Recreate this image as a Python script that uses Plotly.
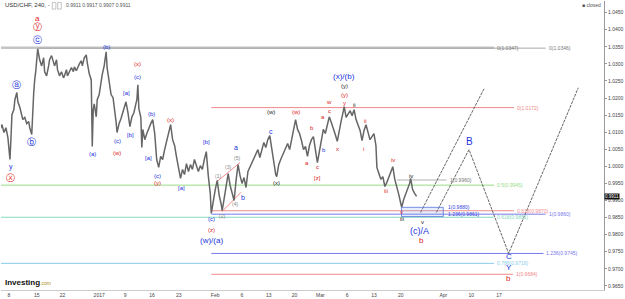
import plotly.graph_objects as go

# ---------------- data ----------------
# time axis: trading days (0 = Dec 8, 2016)
days = [-1.67,-1.30,-0.93,-0.56,-0.19,0.19,0.37,0.56,0.93,1.11,1.48,1.67,2.04,2.41,2.59,2.96,3.33,3.70,3.89,4.26,
        4.44,4.63,4.81,5.00,5.37,5.74,6.11,6.48,6.67,7.04,7.41,7.59,7.96,8.33,8.52,8.89,9.07,9.44,9.81,10.19,
        10.37,10.74,10.93,11.30,11.67,12.04,12.22,12.59,12.78,13.15,13.52,13.70,14.07,14.44,14.63,15.00,15.37,15.56,15.74,15.93,
        16.30,16.48,16.85,17.22,17.41,17.78,18.15,18.33,18.70,19.07,19.44,19.81,20.00,20.19,20.56,20.93,21.30,21.48,21.85,22.22,
        22.59,22.96,23.33,23.70,23.89,24.07,24.26,24.63,24.81,25.00,25.37,25.74,26.11,26.48,26.85,27.22,27.59,27.96,28.33,28.70,
        29.07,29.44,29.81,30.19,30.56,30.93,31.30,31.67,32.04,32.41,32.78,33.15,33.52,33.89,34.26,34.63,35.00,35.37,35.74,36.11,
        36.48,36.85,37.22,37.59,37.78,38.15,38.52,38.89,39.26,39.63,39.81,40.19,40.56,40.93,41.30,41.67,42.04,42.41,42.78,43.15,
        43.52,43.89,44.26,44.63,45.00,45.56,46.11,46.48,46.85,47.22,47.59,47.96,48.33,48.70,49.07,49.44,49.81,50.00,50.37,50.74,
        51.11,51.48,52.04,52.41,52.78,53.15,53.52,53.89,54.26,54.63,55.00,55.37,55.74,56.11,56.48,56.85,57.22,57.59,57.96,58.33,
        58.70,59.07,59.44,59.81,60.19,60.56,60.93,61.30,61.67,62.04,62.41,62.59,62.96,63.33,63.70,64.07,64.44,64.81,65.19,65.56,
        65.93,66.30,66.67,67.04,67.41,67.78,68.15,68.52,68.70,69.07,69.44,69.81,70.19,70.56,70.93,71.30,71.67,72.04,72.41,72.78,
        73.15,73.33,73.70,74.07,74.44,74.81,75.00,75.37,75.74,76.11]
closes = [1.0108,1.0122,1.0099,1.0113,1.0084,1.0020,1.0078,1.0151,1.0166,1.0195,1.0216,1.0189,1.0172,1.0151,1.0137,1.0143,1.0125,1.0131,1.0113,1.0093,
          1.0166,1.0216,1.0253,1.0277,1.0344,1.0312,1.0294,1.0318,1.0277,1.0265,1.0294,1.0312,1.0324,1.0306,1.0294,1.0312,1.0283,1.0265,1.0277,1.0259,
          1.0265,1.0283,1.0265,1.0277,1.0289,1.0277,1.0291,1.0280,1.0289,1.0300,1.0309,1.0294,1.0318,1.0326,1.0303,1.0271,1.0253,1.0058,1.0166,1.0183,
          1.0145,1.0195,1.0210,1.0253,1.0268,1.0294,1.0335,1.0289,1.0242,1.0210,1.0201,1.0160,1.0131,1.0099,1.0125,1.0140,1.0160,1.0172,1.0189,1.0157,
          1.0116,1.0145,1.0157,1.0183,1.0195,1.0239,1.0169,1.0143,1.0055,1.0108,1.0078,1.0096,1.0113,1.0125,1.0137,1.0096,1.0020,0.9997,1.0029,1.0020,
          1.0049,1.0073,1.0090,1.0122,1.0078,1.0061,1.0026,0.9991,0.9965,0.9991,0.9976,1.0008,0.9985,1.0005,0.9991,1.0020,0.9999,0.9985,1.0002,0.9991,
          1.0020,1.0043,0.9973,0.9921,0.9862,0.9903,0.9932,0.9959,0.9915,0.9889,0.9870,0.9906,0.9944,0.9979,0.9944,0.9921,0.9900,0.9959,1.0005,0.9973,
          0.9950,0.9967,0.9938,0.9985,0.9997,1.0020,1.0035,1.0049,1.0026,1.0049,1.0070,1.0055,1.0078,1.0090,1.0049,1.0008,0.9976,0.9970,1.0005,1.0020,
          1.0035,1.0046,1.0067,1.0049,1.0078,1.0105,1.0137,1.0108,1.0096,1.0075,1.0049,1.0058,1.0029,1.0061,1.0078,1.0087,1.0049,1.0011,1.0043,1.0078,
          1.0108,1.0096,1.0125,1.0145,1.0128,1.0113,1.0093,1.0073,1.0108,1.0134,1.0160,1.0175,1.0143,1.0154,1.0163,1.0148,1.0166,1.0137,1.0122,1.0105,
          1.0075,1.0105,1.0122,1.0096,1.0078,1.0087,1.0096,1.0061,0.9997,0.9979,0.9962,0.9970,0.9941,0.9953,0.9967,0.9985,0.9999,0.9962,0.9935,0.9918,
          0.9892,0.9880,0.9903,0.9918,0.9929,0.9950,0.9965,0.9932,0.9921,0.9912]

last_price = 0.9911
ohlc_text = "0.9911 0.9917 0.9907 0.9911"

# Horizontal levels: price, start day, end day, label
lvl_price = [1.0347, 1.0346, 1.0172, 0.9960, 0.9945, 0.9870, 0.9860, 0.9851, 0.9745, 0.9716, 0.9684]
lvl_start = [-1.67, 5.37, 37.8, 72.4, -1.67, 37.8, 37.8, -1.67, 37.8, -1.67, 37.8]
lvl_end = [90.6, 100.2, 94.3, 81.7, 90.6, 94.3, 100.2, 90.6, 99.8, 90.6, 94.1]
lvl_label = ["0(1.0347)", "0(1.0346)", "0(1.0172)", "1(0.9960)", "0.5(0.9945)", "0.618(0.9870)",
             "1(0.9860)", "0.618(0.9851)", "1.236(0.9745)", "0.786(0.9716)", "1(0.9684)"]
lvl_color = ["#c4c4c4", "#a8a8a8", "#f08a8a", "#b0b0b0", "#96dc86", "#f08a8a",
             "#7878ec", "#84d8c0", "#7878ec", "#88ccec", "#f08a8a"]
lvl_width = [2.5, 1, 1, 1, 1, 1, 1, 1, 1, 1, 1]

# target box
box_days = [73.3, 81.1]
box_prices = [0.9853, 0.9880]
box_labels = ["1(0.9880)", "1.236(0.9861)"]
box_label_prices = [0.9880, 0.9861]

# projections
proj1_days = [76.85, 88.7]
proj1_prices = [0.9865, 1.0227]
proj2_days = [79.8, 85.9, 93.3, 106.3]
proj2_prices = [0.9865, 1.0049, 0.9745, 1.0230]

# red impulse channel
chan_up_days = [38.89, 43.15]
chan_up_prices = [0.9956, 1.0011]
chan_lo_days = [39.81, 43.33]
chan_lo_prices = [0.9868, 0.9924]

# wave labels: text, day, price, colour key, size key
BL, RD, BK, GY = "#2233dd", "#dd2222", "#222222", "#888888"
labels = [
    ("a", 5.37, 1.0434, RD, 8), ("ⓨ", 5.37, 1.0408, RD, 9), ("ⓒ", 5.37, 1.0370, BL, 9),
    ("ⓐ", 1.48, 1.0239, BL, 9), ("ⓑ", 4.26, 1.0070, BL, 9), ("y", 0.37, 0.9997, BL, 7), ("ⓧ", 0.37, 0.9965, RD, 9),
    ("(a)", 15.56, 1.0037, BL, 6), ("(b)", 18.15, 1.0350, BL, 6), ("(c)", 20.19, 1.0075, BL, 6), ("(w)", 20.19, 1.0040, RD, 6),
    ("[a]", 22.04, 1.0216, BL, 6), ("[b]", 22.78, 1.0093, BL, 6), ("(x)", 24.07, 1.0300, RD, 6), ("(c)", 24.07, 1.0262, BL, 6),
    ("[a]", 26.11, 1.0023, BL, 6), ("(b)", 26.67, 1.0154, BL, 6), ("(c)", 27.78, 0.9973, BL, 6), ("(y)", 27.78, 0.9950, RD, 6),
    ("(x)", 30.19, 1.0137, RD, 6), ("[a]", 32.22, 0.9938, BL, 6), ("[b]", 36.85, 1.0070, BL, 6),
    ("(c)", 37.78, 0.9845, BL, 6), ("(z)", 37.78, 0.9813, RD, 6), ("(w)/(a)", 37.78, 0.9783, BL, 8),
    ("(1)", 39.07, 0.9973, GY, 5), ("(3)", 40.93, 0.9997, GY, 5), ("(5)", 42.59, 1.0023, GY, 5),
    ("(2)", 39.81, 0.9854, GY, 5), ("(4)", 42.22, 0.9889, GY, 5),
    ("a", 42.41, 1.0055, BL, 7), ("b", 43.70, 0.9909, BL, 7), ("c", 48.89, 1.0102, BL, 7),
    ("(w)", 48.89, 1.0160, BK, 6), ("(x)", 50.0, 0.9950, BK, 6),
    ("(w)", 53.52, 1.0160, RD, 6), ("a", 55.74, 1.0011, RD, 6), ("b", 56.67, 1.0113, RD, 6), ("c", 57.59, 0.9997, RD, 6),
    ("[z]", 57.59, 0.9967, RD, 6), ("b", 58.89, 1.0049, BL, 6), ("a", 58.70, 1.0143, RD, 6), ("c", 59.81, 1.0163, RD, 6),
    ("w", 59.81, 1.0189, RD, 6), ("x", 61.30, 1.0052, RD, 6), ("y", 62.59, 1.0186, RD, 6), ("(y)", 62.59, 1.0210, RD, 6),
    ("(y)", 62.59, 1.0236, BK, 6), ("(x)/(b)", 62.59, 1.0264, BL, 8),
    ("ii", 64.44, 1.0181, BK, 6), ("ii", 66.48, 1.0134, RD, 6), ("i", 66.11, 1.0052, RD, 6),
    ("iv", 71.67, 1.0020, RD, 6), ("iv", 75.0, 0.9973, BK, 6), ("iii", 70.37, 0.9927, RD, 6),
    ("v", 73.33, 0.9866, RD, 6), ("iii", 73.33, 0.9845, BK, 6), ("v", 77.22, 0.9836, BK, 6),
    ("(c)/A", 76.67, 0.9810, BL, 9), ("b", 77.04, 0.9782, RD, 8),
    ("B", 85.93, 1.0073, BL, 10), ("C", 93.33, 0.9737, BL, 8), ("Y", 93.33, 0.9703, BL, 8), ("b", 93.33, 0.9671, RD, 8),
]

tick_days = [0, 5.2, 10, 16.85, 21.7, 26.7, 31.7, 38.5, 43.5, 48.5, 53.3, 58.15, 63.15, 68.15, 73.15, 81.1, 86.3, 91.5]
tick_text = ["8", "15", "22", "2017", "9", "16", "23", "Feb", "6", "13", "20", "Mar", "6", "13", "20", "Apr", "10", "17"]
price_ticks = [0.9650 + 0.005 * i for i in range(17)]

FONT = "Liberation Sans, Arial, DejaVu Sans, sans-serif"

fig = go.Figure()

# levels
for p, s, e, lab, c, w in zip(lvl_price, lvl_start, lvl_end, lvl_label, lvl_color, lvl_width):
    fig.add_trace(go.Scatter(x=[s, e], y=[p, p], mode="lines", line=dict(color=c, width=w), hoverinfo="skip"))
    tc = c if c not in ("#c4c4c4", "#a8a8a8", "#b0b0b0") else "#777777"
    fig.add_annotation(x=e, y=p, text=lab, showarrow=False, xanchor="left", xshift=1,
                       font=dict(size=5, color=tc, family=FONT))

# box
fig.add_shape(type="rect", x0=box_days[0], x1=box_days[1], y0=box_prices[0], y1=box_prices[1],
              xref="x", yref="y", fillcolor="rgba(120,160,235,0.18)", line=dict(color="rgba(90,120,220,0.8)", width=1))
for t, p in zip(box_labels, box_label_prices):
    fig.add_annotation(x=box_days[1], y=p, text=t, showarrow=False, xanchor="left", xshift=3,
                       font=dict(size=5, color="#3344dd", family=FONT))

# channel
fig.add_trace(go.Scatter(x=chan_up_days, y=chan_up_prices, mode="lines", line=dict(color="#f08a8a", width=1), hoverinfo="skip"))
fig.add_trace(go.Scatter(x=chan_lo_days, y=chan_lo_prices, mode="lines", line=dict(color="#f08a8a", width=1), hoverinfo="skip"))

# price
fig.add_trace(go.Scatter(x=days, y=closes, mode="lines", line=dict(color="#666666", width=1.5), hoverinfo="skip"))

# projections
fig.add_trace(go.Scatter(x=proj1_days, y=proj1_prices, mode="lines", line=dict(color="#555555", width=0.9, dash="3px,1px"), hoverinfo="skip"))
fig.add_trace(go.Scatter(x=proj2_days, y=proj2_prices, mode="lines", line=dict(color="#555555", width=0.9, dash="3px,1px"), hoverinfo="skip"))

# wave labels
for t, d, p, c, s in labels:
    fig.add_annotation(x=d, y=p, text=t, showarrow=False, borderpad=0, font=dict(size=s, color=c, family=FONT))

# header / decorations
fig.add_annotation(xref="paper", yref="paper", x=0.003, y=0.985, xanchor="left", yanchor="middle",
                   text="USD/CHF, 240, -", showarrow=False, font=dict(size=6, color="#333333", family=FONT))
fig.add_annotation(xref="paper", yref="paper", x=0.104, y=0.985, xanchor="left", yanchor="middle",
                   text=ohlc_text, showarrow=False, font=dict(size=5, color="#555555", family=FONT))
fig.add_shape(type="rect", xref="paper", yref="paper", x0=0.085, x1=0.091, y0=0.972, y1=0.995,
              line=dict(color="#aaaaaa", width=0.7), fillcolor="white")
fig.add_shape(type="rect", xref="paper", yref="paper", x0=0.094, x1=0.100, y0=0.972, y1=0.995,
              line=dict(color="#aaaaaa", width=0.7), fillcolor="white")
fig.add_annotation(xref="paper", yref="paper", x=0.998, y=0.985, xanchor="right", yanchor="middle",
                   text="■ closed", showarrow=False, font=dict(size=5, color="#555555", family=FONT))
fig.add_annotation(xref="paper", yref="paper", x=0.004, y=0.003, xanchor="left", yanchor="bottom",
                   text="<b>Investing</b><span style='font-size:5px;color:#b08a20'>.com</span>", showarrow=False,
                   font=dict(size=8, color="#111111", family=FONT))
# last price tag
fig.add_annotation(xref="paper", yref="y", x=1.0, y=last_price, xanchor="left", yanchor="middle",
                   text=f"{last_price:.4f}", showarrow=False, bgcolor="#111111", borderpad=0,
                   font=dict(size=4.5, color="white", family=FONT))

fig.update_layout(
    width=625, height=299,
    margin=dict(l=1, r=16, t=1, b=8),
    paper_bgcolor="white", plot_bgcolor="white",
    showlegend=False,
    xaxis=dict(range=[-1.48, 111.1], tickvals=tick_days, ticktext=tick_text, showgrid=False, zeroline=False,
               showline=True, linecolor="#cccccc", linewidth=1, ticks="", tickfont=dict(size=5, color="#444444", family=FONT)),
    yaxis=dict(range=[0.9638, 1.0484], side="right", tickvals=price_ticks, ticktext=[f"{v:.4f}" for v in price_ticks],
               showgrid=False, zeroline=False, showline=True, linecolor="#999999", linewidth=1, ticks="outside",
               ticklen=2, tickcolor="#999999", tickfont=dict(size=5, color="#444444", family=FONT)),
)

fig.write_html("out.html")
